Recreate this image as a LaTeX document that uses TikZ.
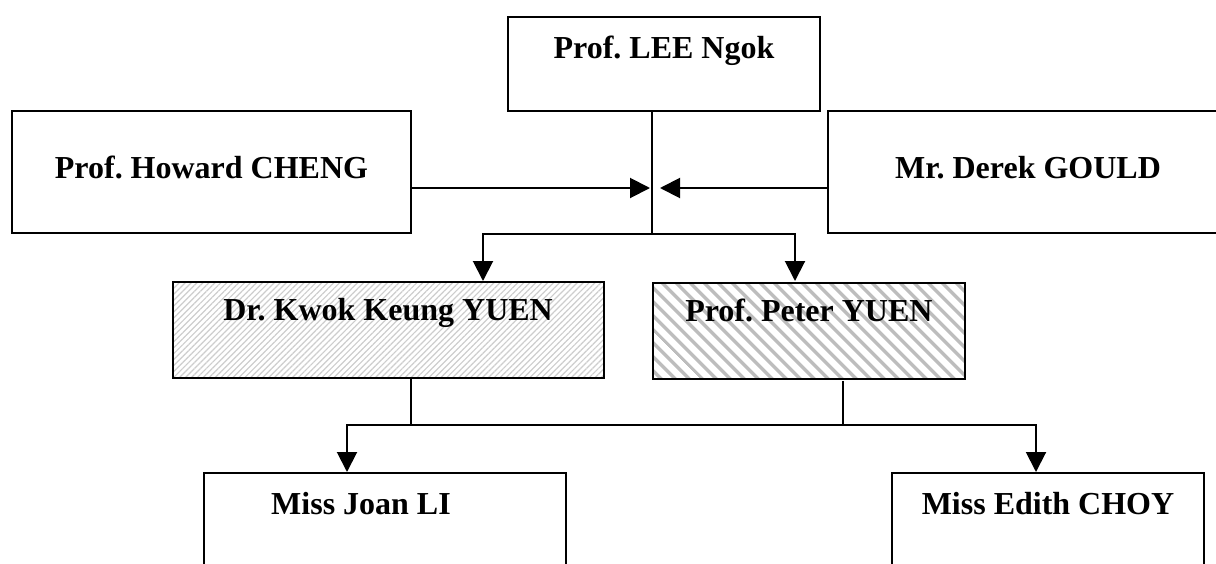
\documentclass[tikz,border=0pt]{standalone}
\usepackage{fontspec}
\setmainfont{Liberation Serif}
\usepackage{tikz}
\usetikzlibrary{positioning, arrows.meta, calc, patterns.meta}
\frenchspacing
\definecolor{orgline}{HTML}{000000}
\definecolor{orghatch}{HTML}{BDBDBD}
\definecolor{orgfine}{HTML}{CDCDCD}
\tikzset{
  person/.style={draw=orgline, line width=2pt, inner sep=0pt, anchor=north west,
    text height=41pt, text depth=53pt, font=\bfseries\fontsize{32}{36}\selectfont},
  fineshade/.style={pattern={Lines[angle=45, distance=4.2pt, line width=1.2pt]}, pattern color=orgfine},
  wideshade/.style={pattern={Lines[angle=-45, distance=10.5pt, line width=3.8pt]}, pattern color=orghatch},
  link/.style={draw=orgline, line width=2pt},
  arrow/.style={link, -{Triangle[length=20pt, width=20pt]}}
}

\begin{document}
\begin{tikzpicture}[x=1pt, y=-1pt]
  \clip (0,0) rectangle (1216,563);
  \node[person, minimum width=312pt] (lee) at (507,16) {Prof. LEE Ngok};
  \node[person, minimum width=399pt, text height=67pt, text depth=55pt] (cheng) at (11,110) {Prof. Howard CHENG};
  \node[person, minimum width=400pt, text height=67pt, text depth=55pt] (gould) at (827,110) {Mr. Derek GOULD};
  \node[person, fineshade, minimum width=431pt, text height=39pt, text depth=57pt] (kwok) at (172,281) {Dr. Kwok Keung YUEN};
  \node[person, wideshade, minimum width=312pt, text height=39pt, text depth=57pt] (peter) at (651,281) {Prof. Peter YUEN};
  \node[person, minimum width=362pt, text depth=120pt] (joan) at (203,472) {Miss Joan LI\hspace*{48pt}};
  \node[person, minimum width=312pt, text depth=120pt] (choy) at (891,472) {Miss Edith CHOY};

  \coordinate (split) at ([xshift=145pt]lee.south west);
  \coordinate (tipL) at ($(split)+(-2,76)$);
  \coordinate (tipR) at ($(split)+(8,76)$);
  \coordinate (kwokin) at ([xshift=311pt]kwok.north west);
  \coordinate (peterin) at ([xshift=144pt]peter.north west);
  \coordinate (kwokout) at ([xshift=239pt]kwok.south west);
  \coordinate (peterout) at ([xshift=192pt]peter.south west);
  \coordinate (joanin) at ([xshift=144pt]joan.north west);
  \coordinate (choyin) at ([xshift=145pt]choy.north west);

  \draw[link] (split) -- ++(0,122) coordinate (hub);
  \draw[arrow] (cheng.east |- tipL) -- (tipL);
  \draw[arrow] (gould.west |- tipR) -- (tipR);
  \draw[arrow] (hub) -| (kwokin);
  \draw[arrow] (hub) -| (peterin);

  \draw[link] (kwokout) -- ++(0,47) coordinate (bus);
  \draw[link] (peterout) |- (bus);
  \draw[arrow] (bus) -| (joanin);
  \draw[arrow] (bus) -| (choyin);
\end{tikzpicture}
\end{document}
